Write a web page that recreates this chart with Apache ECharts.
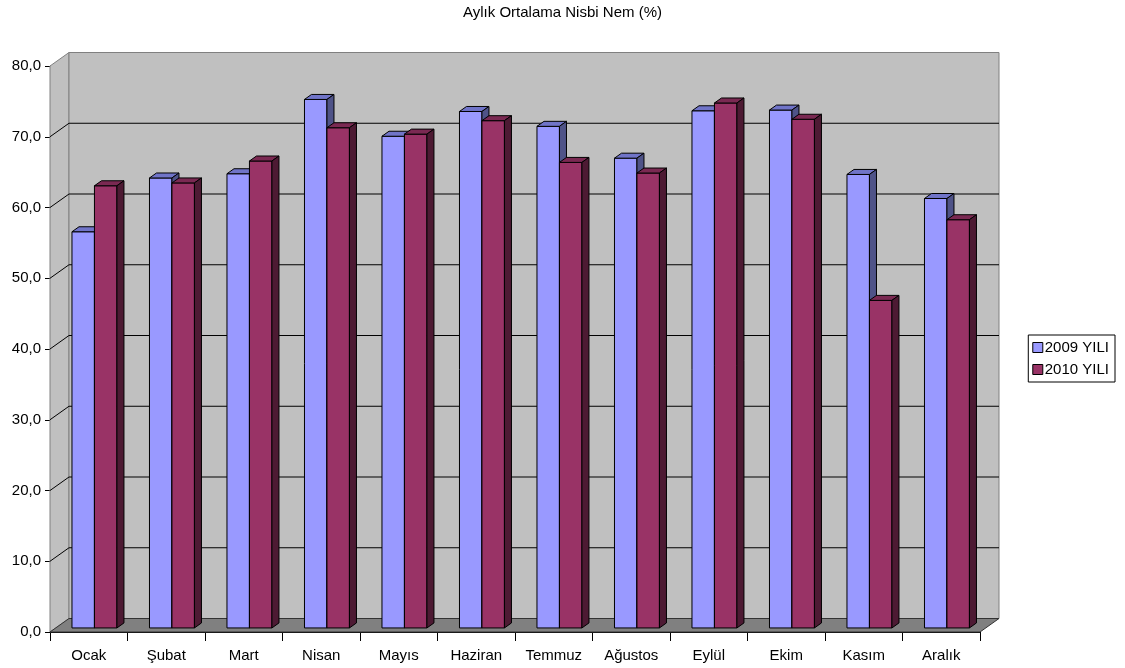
<!DOCTYPE html>
<html>
<head>
<meta charset="utf-8">
<script src="https://cdn.jsdelivr.net/npm/echarts@6/dist/echarts.min.js"></script>
<style>
html,body{margin:0;padding:0;background:#fff;}
#chart{width:1125px;height:668px;}
</style>
</head>
<body>
<div id="chart"></div>
<script>
// aylar ve degerler
var months = ['Ocak','Şubat','Mart','Nisan','Mayıs','Haziran','Temmuz','Ağustos','Eylül','Ekim','Kasım','Aralık'];
var y2009 = [56.0,63.6,64.2,74.7,69.5,73.0,70.9,66.4,73.1,73.2,64.1,60.7];
var y2010 = [62.5,62.9,66.0,70.7,69.8,71.7,65.8,64.3,74.2,71.9,46.3,57.7];
var yTicks = [0,10,20,30,40,50,60,70,80];

// 3d derinlik
var DX = 19, DY = -13.5;
var FRONT = 0.3, DEPTH = 0.37;

function toPairs(arr){
	var out=[];
	for(var i=0;i<arr.length;i++){ out.push([i,arr[i]]); }
	return out;
}

function renderWalls(params, api){
	var bw = api.size([1,0])[0];
	var p0 = api.coord([0,0]);
	var left = p0[0]-bw/2;
	var right = api.coord([months.length-1,0])[0]+bw/2;
	var yb = p0[1];
	var yt = api.coord([0,yTicks[yTicks.length-1]])[1];
	var children = [];
	// yan duvar
	children.push({type:'polygon',shape:{points:[[left,yb],[left,yt],[left+DX,yt+DY],[left+DX,yb+DY]]},
		style:{fill:'#c0c0c0',stroke:'#808080',lineWidth:1}});
	// arka duvar
	children.push({type:'rect',shape:{x:left+DX,y:yt+DY,width:right-left,height:yb-yt},
		style:{fill:'#c0c0c0',stroke:'#808080',lineWidth:1}});
	// grid cizgileri
	for(var k=1;k<yTicks.length-1;k++){
		var y = api.coord([0,yTicks[k]])[1];
		children.push({type:'polyline',shape:{points:[[left,y],[left+DX,y+DY],[right+DX,y+DY]]},
			style:{fill:null,stroke:'#000',lineWidth:1}});
	}
	// zemin
	children.push({type:'polygon',shape:{points:[[left,yb],[right,yb],[right+DX,yb+DY],[left+DX,yb+DY]]},
		style:{fill:'#808080',stroke:'#333',lineWidth:1}});
	return {type:'group',children:children};
}

function makeBar(side, topColor, sideColor){
	return function(params, api){
		var i = api.value(0), v = api.value(1);
		var bw = api.size([1,0])[0];
		var w = bw*0.29;
		var base = api.coord([i,0]), top = api.coord([i,v]);
		var x0 = base[0] + (side===0 ? -w : 0) + DX*FRONT;
		var x1 = x0 + w;
		var yb = base[1] + DY*FRONT, yt = top[1] + DY*FRONT;
		var dx = DX*DEPTH, dy = DY*DEPTH;
		return {type:'group',children:[
			{type:'rect',shape:{x:x0,y:yt,width:w,height:yb-yt},style:{fill:api.visual('color'),stroke:'#000',lineWidth:1}},
			{type:'polygon',shape:{points:[[x0,yt],[x1,yt],[x1+dx,yt+dy],[x0+dx,yt+dy]]},style:{fill:topColor,stroke:'#000',lineWidth:1}},
			{type:'polygon',shape:{points:[[x1,yt],[x1,yb],[x1+dx,yb+dy],[x1+dx,yt+dy]]},style:{fill:sideColor,stroke:'#000',lineWidth:1}}
		]};
	};
}

var myChart = echarts.init(document.getElementById('chart'));
var font = 'Liberation Sans, Arial, sans-serif';
var option = {
	animation:false,
	title:{
		text:'Aylık Ortalama Nisbi Nem (%)',
		left:'center',
		top:0,
		textStyle:{fontFamily:font,fontSize:15,fontWeight:'normal',color:'#000'}
	},
	legend:{
		orient:'vertical',
		right:10,
		top:335,
		padding:[5,6,5,4],
		itemGap:7,
		itemWidth:10,
		itemHeight:10,
		icon:'rect',
		borderColor:'#000',
		borderWidth:1,
		textStyle:{fontFamily:font,fontSize:15,color:'#000',padding:[0,0,0,-3]},
		data:[
			{name:'2009 YILI',itemStyle:{color:'#9999ff',borderColor:'#000',borderWidth:1}},
			{name:'2010 YILI',itemStyle:{color:'#993366',borderColor:'#000',borderWidth:1}}
		]
	},
	grid:{left:50,right:145,top:66,bottom:36},
	xAxis:{
		type:'category',
		data:months,
		boundaryGap:true,
		axisLine:{lineStyle:{color:'#000',width:1}},
		axisTick:{show:true,length:9,lineStyle:{color:'#000'}},
		axisLabel:{fontFamily:font,fontSize:15,color:'#000',margin:16},
		splitLine:{show:false}
	},
	yAxis:{
		type:'value',
		min:0,max:80,interval:10,
		axisLine:{show:true,lineStyle:{color:'#000',width:1}},
		axisTick:{show:true,length:5,lineStyle:{color:'#000'}},
		axisLabel:{fontFamily:font,fontSize:15,color:'#000',margin:9,
			formatter:function(v){ return v.toFixed(1).replace('.',','); }},
		splitLine:{show:false}
	},
	series:[
		{type:'custom',name:'walls',renderItem:renderWalls,data:[[0,0]],silent:true,z:1},
		{type:'custom',name:'2009 YILI',renderItem:makeBar(0,'#7074c8','#4f5388'),data:toPairs(y2009),
			itemStyle:{color:'#9999ff'},z:2},
		{type:'custom',name:'2010 YILI',renderItem:makeBar(1,'#7a2952','#4d1a33'),data:toPairs(y2010),
			itemStyle:{color:'#993366'},z:3}
	]
};
myChart.setOption(option);
</script>
</body>
</html>
